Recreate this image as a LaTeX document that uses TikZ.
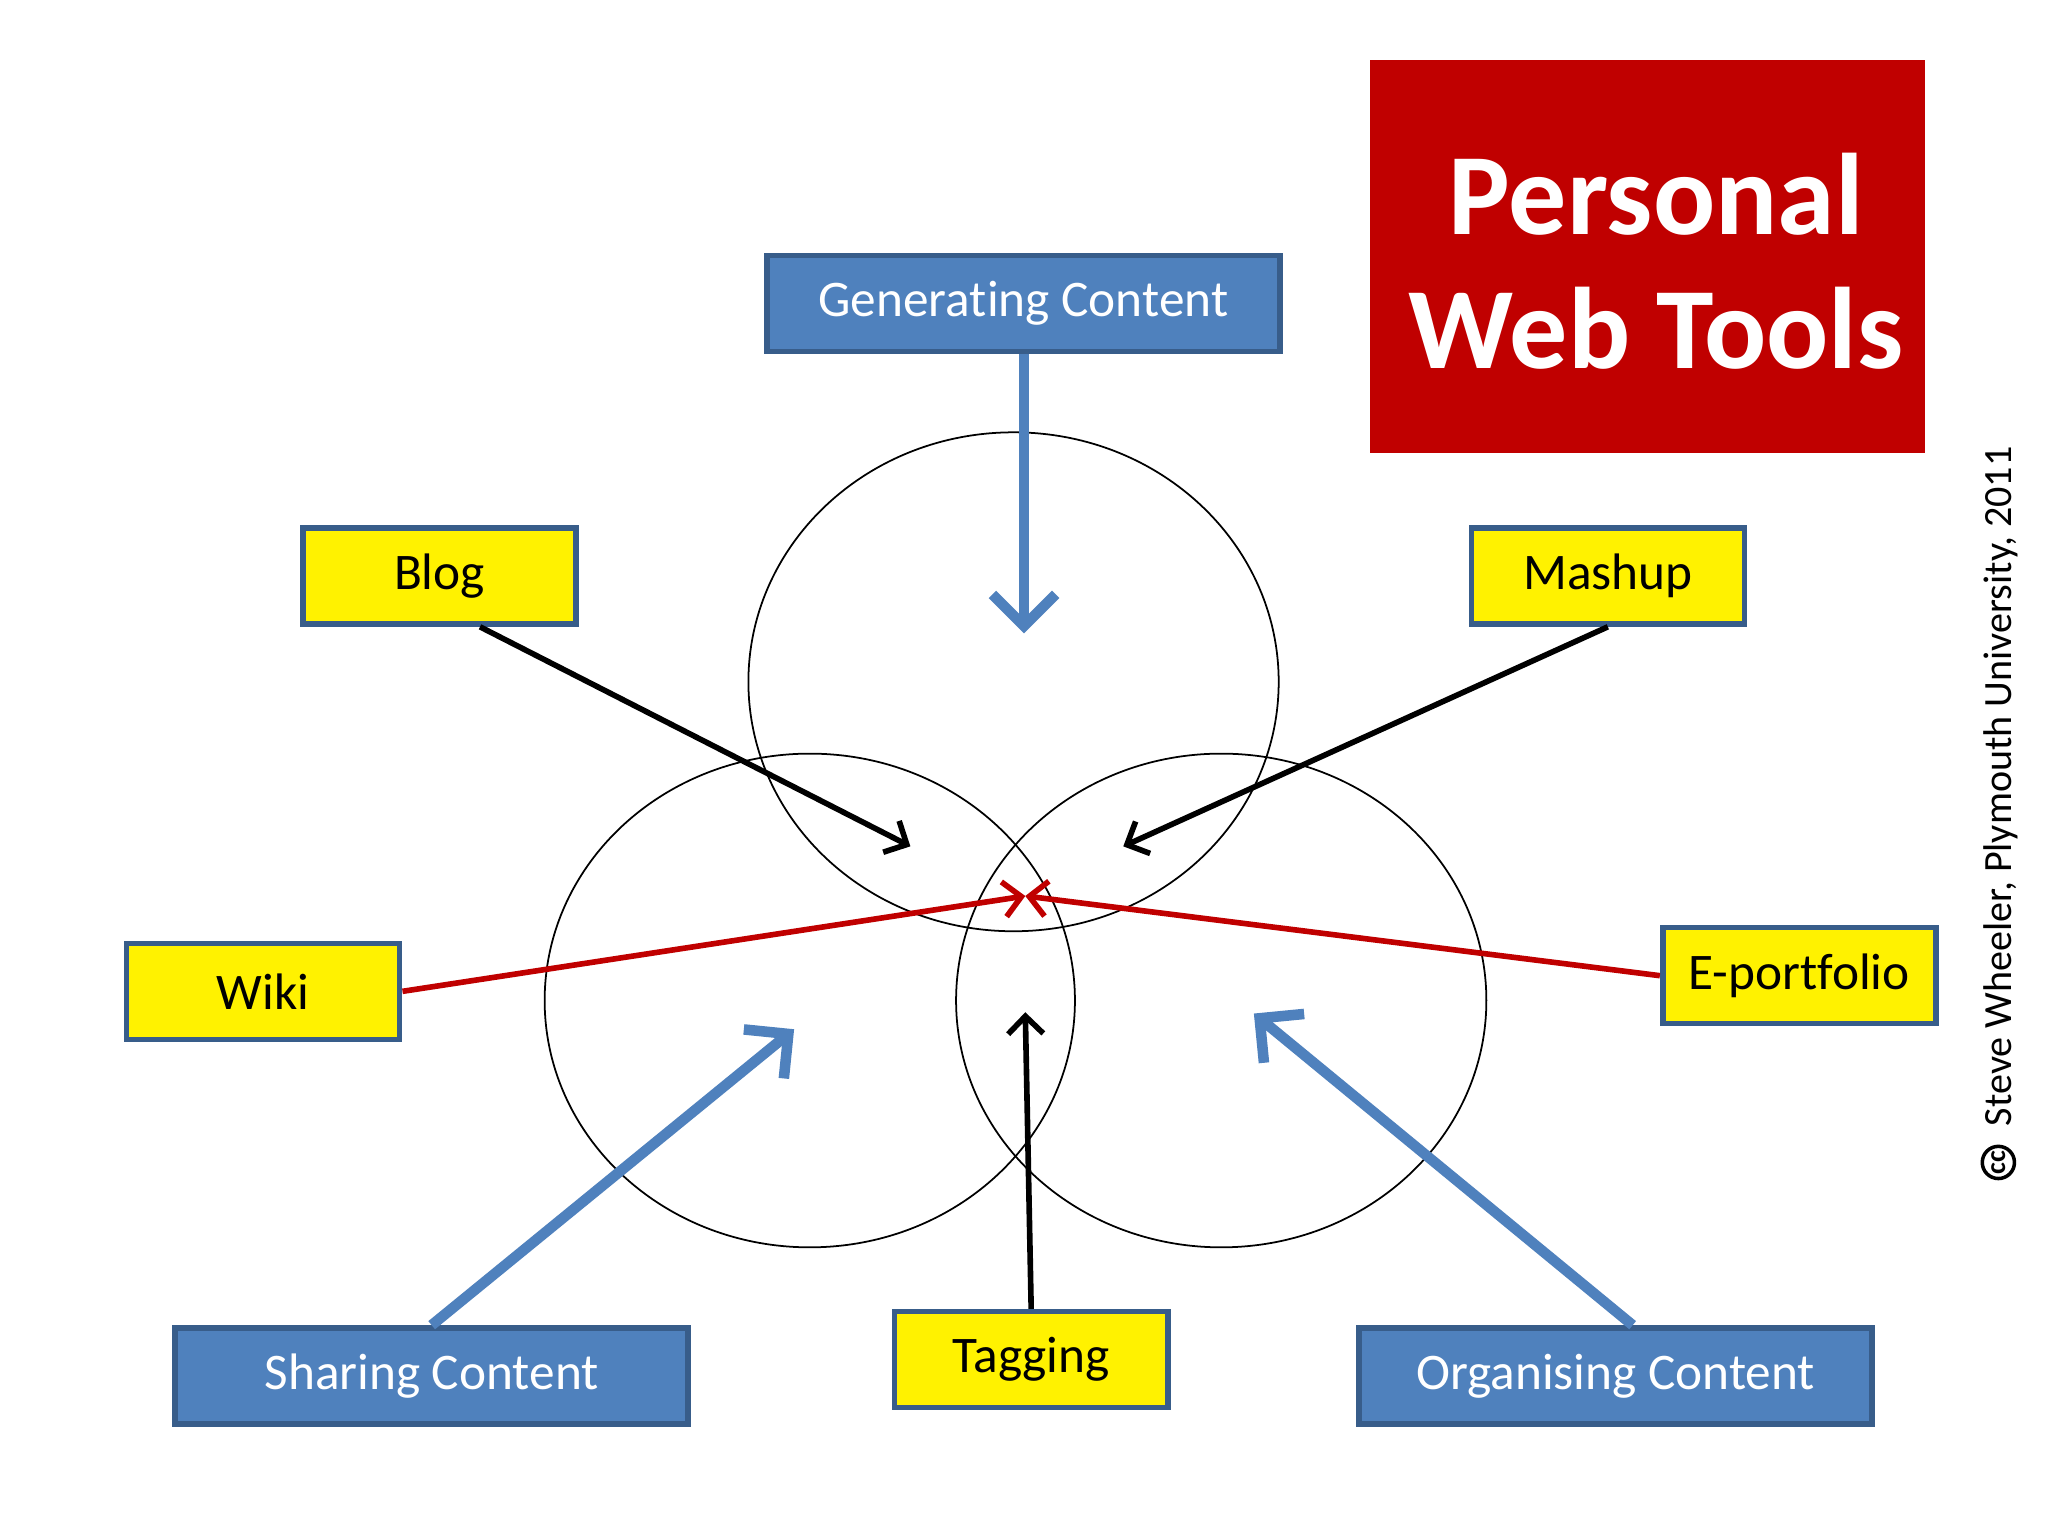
\documentclass[tikz,border=0pt]{standalone}
\usepackage{fontspec}
\setmainfont{Carlito}[Ligatures=NoCommon]
\usetikzlibrary{arrows.meta,shapes.geometric}
\definecolor{bfill}{HTML}{4F81BD}
\definecolor{bdraw}{HTML}{385D8A}
\definecolor{tred}{HTML}{C00000}
\begin{document}
\begin{tikzpicture}[x=0.01306cm,y=-0.01306cm,
 bluebox/.style={draw=bdraw,line width=1.6pt,fill=bfill,text=white,font=\fontsize{14.6}{18}\selectfont,minimum height=0.96cm,inner sep=0pt},
 yelbox/.style={draw=bdraw,line width=1.6pt,fill=yellow,text=black,font=\fontsize{14.6}{18}\selectfont,minimum width=2.73cm,minimum height=0.96cm,inner sep=0pt},
 circ/.style={draw=black,line width=0.5pt},
 barrow/.style={draw=bfill,line width=3pt,-{Straight Barb[length=9pt,width=18pt,line width=3pt]}},
 karrow/.style={draw=black,line width=1.6pt,-{Straight Barb[length=5pt,width=10pt]}},
 rarrow/.style={draw=tred,line width=1.6pt,-{Straight Barb[length=5pt,width=10pt]}}]
\useasboundingbox (0,0) rectangle (1568,1176);
\fill[white] (0,0) rectangle (1568,1176);
% title
\node[fill=tred,minimum width=5.55cm,minimum height=3.93cm] (title) at (1261.5,196.5) {};
\node[text=white,font=\bfseries\fontsize{33}{40}\selectfont,align=center] (tt) at (1268,200) {Personal\\[-2pt]Web Tools};
% circles
\draw[circ] (776,522) ellipse [x radius=203,y radius=191];
\draw[circ] (620,766) ellipse [x radius=203,y radius=189];
\draw[circ] (935,766) ellipse [x radius=203,y radius=189];
% boxes
\node[bluebox,minimum width=5.13cm] (gen) at (783.5,232.5) {Generating Content};
\node[bluebox,minimum width=5.13cm] (share) at (330.5,1053.5) {Sharing Content};
\node[bluebox,minimum width=5.13cm] (org) at (1237,1053.5) {Organising Content};
\node[yelbox] (blog) at (336.5,441) {Blog};
\node[yelbox] (mash) at (1231,441) {Mashup};
\node[yelbox] (wiki) at (201.5,759) {Wiki};
\node[yelbox] (ep) at (1377.5,747) {E-portfolio};
\node[yelbox] (tag) at (789.5,1041) {Tagging};
% targets
\coordinate (tgen) at (784,485);
\coordinate (tblog) at (697,648);
\coordinate (tmash) at (860,648);
\coordinate (tx) at (785,686);
\coordinate (ttag) at (785,775);
\coordinate (tshare) at (608,788);
\coordinate (torg) at (960,776);
\draw[barrow] (gen.south -| tgen) -- (tgen);
\draw[barrow] (share.north) -- (tshare);
\draw[barrow] (org.north) ++(13,0) -- (torg);
\draw[karrow] (blog.south) ++(31,0) -- (tblog);
\draw[karrow] (mash.south) -- (tmash);
\draw[karrow] (tag.north) -- (ttag);
\draw[rarrow] (wiki.east) -- (tx);
\draw[rarrow] (ep.west) -- (tx);
% credit
\node[rotate=90,font=\fontsize{11.4}{14}\selectfont] (cred) at (1532,602) {Steve Wheeler, Plymouth University, 2011};
\node[draw,circle,line width=1pt,inner sep=0.5pt,rotate=90,font=\bfseries\fontsize{8}{9}\selectfont] (cc) at (1530,890) {cc};
\end{tikzpicture}
\end{document}
